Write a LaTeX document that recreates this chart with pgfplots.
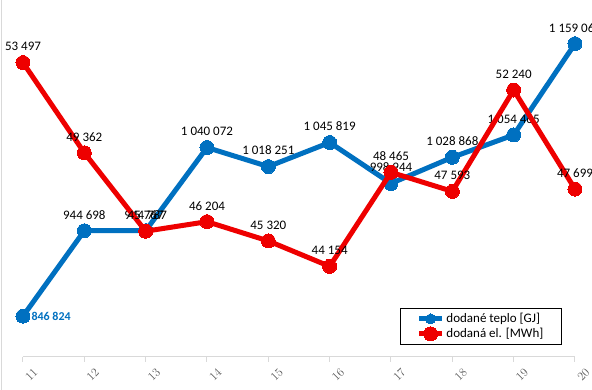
\documentclass[border=0pt]{standalone}
\usepackage{pgfplots}
\pgfplotsset{compat=1.18}
\usepackage{fontspec}
\setmainfont{Carlito}
\definecolor{cblue}{RGB}{0,112,192}
\definecolor{cred}{RGB}{238,0,0}
\definecolor{axgray}{RGB}{217,217,217}
\definecolor{lblgray}{RGB}{89,89,89}
\begin{document}
\begin{tikzpicture}[x=1pt,y=1pt]
\useasboundingbox (0,0) rectangle (592,390);
\draw[axgray,line width=1pt] (1.5,0) -- (1.5,390);
\pgfplotsset{
  base/.style={
    at={(23pt,33pt)}, anchor=south west,
    scale only axis, width=552pt, height=349pt,
    xmin=11, xmax=20, clip=false,
    axis y line=none,
  },
  lbl/.style={only marks, mark=none, forget plot,
    point meta=explicit symbolic, nodes near coords,
    every node near coord/.append style={anchor=south, yshift=8pt,
      font=\fontsize{13}{15}\selectfont, text=black}},
}
\begin{axis}[base,
  axis x line*=bottom,
  axis line style={axgray, line width=1pt},
  xtick={11,...,20},
  major tick length=5pt, tick align=outside,
  xtick style={axgray, line width=1pt},
  xticklabel style={rotate=45, anchor=center, yshift=-15pt, xshift=-3pt,
    font=\fontsize{12}{14}\selectfont, text=lblgray},
  ymin=800000, ymax=1200000]
\addplot[lbl] coordinates {
(11,846824) []
(12,944698) [944 698]
(13,944787) [944 787]
(14,1040072) [1 040 072]
(15,1018251) [1 018 251]
(16,1045819) [1 045 819]
(17,998944) [998 944]
(18,1028868) [1 028 868]
(19,1054465) [1 054 465]
(20,1159065) [1 159 065]
};
\addplot[only marks, mark=none, forget plot,
    point meta=explicit symbolic, nodes near coords,
    every node near coord/.append style={anchor=west, xshift=5pt,
      font=\bfseries\fontsize{12}{14}\selectfont, text=cblue}]
 coordinates {(11,846824) [846 824]};
\addplot[cblue, line width=5pt, mark=*, mark size=7pt,
  mark options={fill=cblue, draw=cblue, line width=0pt}] coordinates {
(11,846824) (12,944698) (13,944787) (14,1040072) (15,1018251)
(16,1045819) (17,998944) (18,1028868) (19,1054465) (20,1159065)
};
\end{axis}
\begin{axis}[base,
  axis x line=none,
  ymin=40000, ymax=56000,
  legend style={at={(0.976,0.14)}, anchor=north east, draw=black,
    line width=0.8pt, inner xsep=16pt, inner ysep=3pt,
    font=\fontsize{13}{15}\selectfont, row sep=0pt},
  legend cell align=left,
  legend image code/.code={\draw[mark repeat=2,mark phase=2,#1]
     plot coordinates {(0cm,0cm) (0.4cm,0cm) (0.8cm,0cm)};}]
\addplot[lbl] coordinates {
(11,53497) [53 497]
(12,49362) [49 362]
(13,45767) [45 767]
(14,46204) [46 204]
(15,45320) [45 320]
(16,44154) [44 154]
(17,48465) [48 465]
(18,47593) [47 593]
(19,52240) [52 240]
(20,47699) [47 699]
};
\addlegendimage{cblue, line width=5pt, mark=*, mark size=5pt,
  mark options={fill=cblue, draw=cblue, line width=0pt}}
\addlegendentry{dodané teplo [GJ]}
\addplot[cred, line width=5pt, mark=*, mark size=7pt,
  mark options={fill=cred, draw=cred, line width=0pt}] coordinates {
(11,53497) (12,49362) (13,45767) (14,46204) (15,45320)
(16,44154) (17,48465) (18,47593) (19,52240) (20,47699)
};
\addlegendentry{dodaná el. [MWh]}
\end{axis}
\end{tikzpicture}
\end{document}
